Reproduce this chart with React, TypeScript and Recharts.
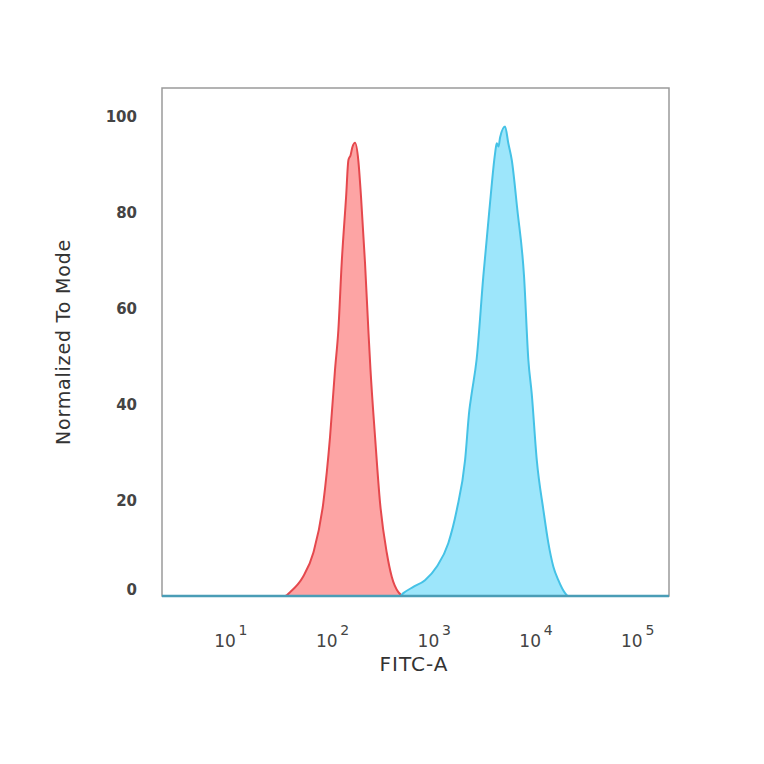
import React from "react";
import { ComposedChart, Area, XAxis, YAxis, ReferenceArea, ReferenceLine } from "recharts";

// x values are log10 of FITC-A intensity
const redX = [0.341, 1.55, 1.6, 1.728, 1.829, 1.927, 1.993, 2.042, 2.075, 2.108, 2.151, 2.174, 2.195, 2.212, 2.239, 2.271, 2.298, 2.337, 2.37, 2.391, 2.436, 2.485, 2.551, 2.6, 2.665, 2.72, 5.326];
const redY = [0, 0, 0.8, 4.0, 9.0, 19.4, 33.1, 47.1, 55.4, 69.4, 83.1, 90.8, 91.8, 93.4, 94.4, 90.8, 83.1, 69.4, 55.4, 47.1, 33.1, 19.4, 9.0, 4.0, 0.8, 0, 0];

const cyanX = [0.341, 2.681, 2.714, 2.812, 2.927, 3.042, 3.156, 3.239, 3.321, 3.363, 3.386, 3.434, 3.5, 3.56, 3.616, 3.632, 3.65, 3.665, 3.714, 3.746, 3.78, 3.835, 3.901, 3.943, 3.976, 4.026, 4.091, 4.14, 4.189, 4.238, 4.304, 4.333, 5.326];
const cyanY = [0, 0, 0.6, 1.9, 3.3, 6.1, 11.0, 17.9, 28.3, 38.7, 42.2, 49.2, 66.5, 80.4, 92.2, 94.3, 93.6, 95.5, 97.8, 94.3, 90.8, 80.4, 66.5, 49.2, 42.2, 28.3, 17.9, 11.0, 6.1, 3.3, 0.6, 0, 0];

const xTicks = [1, 2, 3, 4, 5];
const yTicks = [0, 20, 40, 60, 80, 100];
const xDomain = [0.341, 5.326];
const yDomain = [0, 105.8];

const xs = Array.from(new Set([...redX, ...cyanX])).sort((a, b) => a - b);
const table = xs.map((x) => {
  const ri = redX.indexOf(x);
  const ci = cyanX.indexOf(x);
  return { x, red: ri >= 0 ? redY[ri] : null, cyan: ci >= 0 ? cyanY[ci] : null };
});

const font = "'DejaVu Sans', 'Open Sans', sans-serif";

const XTick = (props: any) => {
  const { x, y, payload } = props;
  return (
    <g transform={`translate(${x},${y})`}>
      <text x={-4} y={43} textAnchor="middle" fontFamily={font} fontSize={17} fill="#444">
        10
      </text>
      <text x={14} y={31} textAnchor="middle" fontFamily={font} fontSize={14} fill="#444">
        {payload.value}
      </text>
    </g>
  );
};

const YTick = (props: any) => {
  const { x, y, payload } = props;
  const dy = payload.value === 0 ? -7 : 0;
  return (
    <text x={x - 17} y={y + dy + 6} textAnchor="end" fontFamily={font} fontSize={15} fontWeight="bold" fill="#444">
      {payload.value}
    </text>
  );
};

export default function App() {
  return (
    <div style={{ position: "absolute", left: 0, top: 0, width: 764, height: 764, background: "#fff" }}>
      <ComposedChart width={764} height={764} data={table} margin={{ top: 88, right: 95, bottom: 128, left: 102 }}>
        <XAxis
          dataKey="x"
          type="number"
          domain={xDomain}
          ticks={xTicks}
          allowDataOverflow
          axisLine={false}
          tickLine={false}
          tick={<XTick />}
          height={40}
        />
        <YAxis
          type="number"
          domain={yDomain}
          ticks={yTicks}
          allowDataOverflow
          axisLine={false}
          tickLine={false}
          tick={<YTick />}
          width={60}
        />
        <ReferenceArea x1={xDomain[0]} x2={xDomain[1]} y1={yDomain[0]} y2={yDomain[1]} fill="none" stroke="#9a9a9a" strokeWidth={1.5} fillOpacity={0} />
        <Area
          type="monotone"
          dataKey="red"
          connectNulls
          stroke="#e5484d"
          strokeWidth={2}
          fill="#fda4a4"
          fillOpacity={1}
          isAnimationActive={false}
          dot={false}
          activeDot={false}
        />
        <Area
          type="monotone"
          dataKey="cyan"
          connectNulls
          stroke="#45c2e6"
          strokeWidth={2}
          fill="#9de6fb"
          fillOpacity={1}
          isAnimationActive={false}
          dot={false}
          activeDot={false}
        />
        <ReferenceLine y={0} stroke="#4a9db6" strokeWidth={2.5} ifOverflow="visible" />
      </ComposedChart>
      <div
        style={{
          position: "absolute",
          left: 63,
          top: 342,
          transform: "translate(-50%, -50%) rotate(-90deg)",
          fontFamily: font,
          fontSize: 19,
          letterSpacing: 0.8,
          color: "#333",
          whiteSpace: "nowrap",
        }}
      >
        Normalized To Mode
      </div>
      <div
        style={{
          position: "absolute",
          left: 414,
          top: 664,
          transform: "translate(-50%, -50%)",
          fontFamily: font,
          fontSize: 20,
          letterSpacing: 1,
          color: "#333",
          whiteSpace: "nowrap",
        }}
      >
        FITC-A
      </div>
    </div>
  );
}
